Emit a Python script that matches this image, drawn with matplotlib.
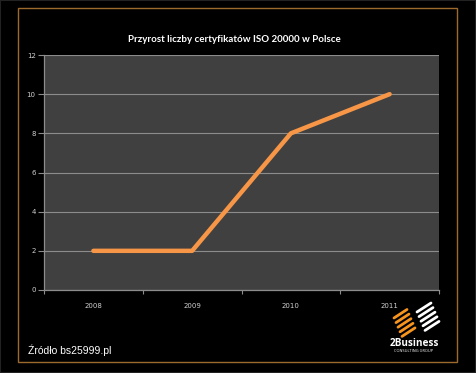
import matplotlib
matplotlib.use("Agg")
import matplotlib.pyplot as plt
from matplotlib.patches import Rectangle
from matplotlib.lines import Line2D

# data
years = ["2008", "2009", "2010", "2011"]
certs = [2, 2, 8, 10]
yticks = [0, 2, 4, 6, 8, 10, 12]

W, H = 476, 373
fig = plt.figure(figsize=(W / 100, H / 100), dpi=100, facecolor="black")


def px(x, y):
    # pixel position (y from top) -> figure fraction
    return x / W, 1 - y / H


# frame around the whole picture and the orange-brown inner border
fig.patches.append(Rectangle((0, 0), 1, 1, transform=fig.transFigure,
                             fill=False, edgecolor="#222222", lw=1.5))
x0, y0 = px(18, 362)
x1, y1 = px(457, 8)
fig.patches.append(Rectangle((x0, y0), x1 - x0, y1 - y0, transform=fig.transFigure,
                             fill=False, edgecolor="#9c6a2c", lw=1.0))

ax = fig.add_axes([44 / W, 1 - 290 / H, 395 / W, 235 / H])
ax.set_facecolor("#404040")

xs = range(len(years))
ax.plot(xs, certs, color="#F79646", lw=3.2, solid_capstyle="round",
        solid_joinstyle="round", zorder=3)

ax.set_xlim(-0.5, len(years) - 0.5)
ax.set_ylim(0, 12)
ax.set_yticks(yticks)
ax.set_xticks(list(xs))
ax.set_xticklabels(years)
ax.set_xticks([i - 0.5 for i in range(len(years) + 1)], minor=True)

ax.grid(axis="y", color="#8c8c8c", lw=0.8)
ax.set_axisbelow(True)
for s in ["top", "right"]:
    ax.spines[s].set_visible(False)
for s in ["left", "bottom"]:
    ax.spines[s].set_color("#8c8c8c")
    ax.spines[s].set_linewidth(0.9)

ax.tick_params(axis="y", colors="#8c8c8c", labelcolor="#d0d0d0", labelsize=5,
               length=4, width=0.8, pad=2)
ax.tick_params(axis="x", which="major", length=0, labelcolor="#d0d0d0",
               labelsize=5, pad=9)
ax.tick_params(axis="x", which="minor", colors="#8c8c8c", length=3, width=0.8)

fig.text(234 / W, 1 - 40 / H, "Przyrost liczby certyfikatów ISO 20000 w Polsce",
         color="white", fontsize=7, fontweight="bold", family="Lato",
         ha="center", va="center")

fig.text(28 / W, 1 - 350 / H, "Źródło bs25999.pl", color="white",
         fontsize=7.5, family="Liberation Sans", ha="left", va="center")

# 2Business logo: two groups of short rounded stripes
for k in range(5):
    sx, sy = 394 + 2.0 * k, 318 + 4.6 * k
    a, b = px(sx, sy)
    c, d = px(sx + 13, sy - 8.5)
    fig.lines.append(Line2D([a, c], [b, d], transform=fig.transFigure,
                            color="#F7941D", lw=2.0, solid_capstyle="round"))
for k in range(5):
    sx, sy = 417 + 2.0 * k, 312 + 4.6 * k
    a, b = px(sx, sy)
    c, d = px(sx + 14, sy - 9)
    fig.lines.append(Line2D([a, c], [b, d], transform=fig.transFigure,
                            color="white", lw=2.0, solid_capstyle="round"))

fig.text(414 / W, 1 - 344 / H, "2Business", color="white", fontsize=7.2,
         fontweight="bold", family="Open Sans", ha="center", va="center")
fig.text(414 / W, 1 - 351.5 / H, "CONSULTING GROUP", color="white", fontsize=2.8,
         family="Open Sans", ha="center", va="center")

fig.savefig("out.png", dpi=100, facecolor="black")
